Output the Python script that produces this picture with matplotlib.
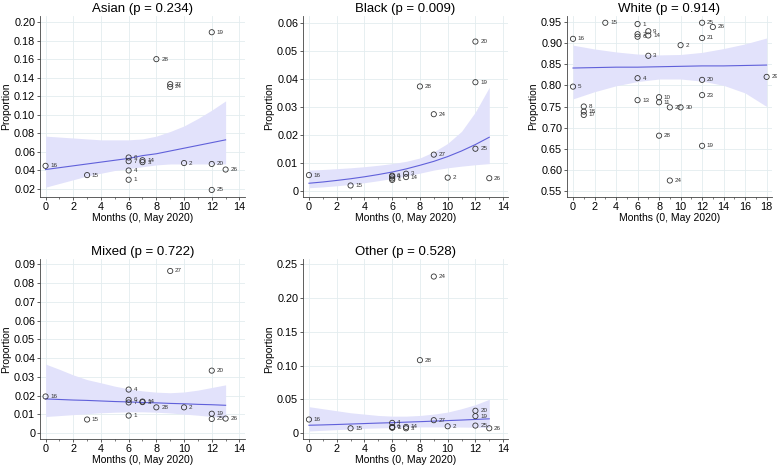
import matplotlib
matplotlib.use("Agg")
import matplotlib.pyplot as plt
import numpy as np
from matplotlib.ticker import MultipleLocator, FuncFormatter

plt.rcParams['font.family'] = ['Liberation Sans', 'DejaVu Sans']

# Months since May 2020 for each study
months = {1: 6, 2: 10, 3: 7, 4: 6, 5: 0, 6: 6, 7: 6, 8: 1, 9: 7, 10: 8, 11: 8,
          13: 6, 14: 7, 15: 3, 16: 0, 17: 1, 18: 1, 19: 12, 20: 12, 21: 12,
          23: 12, 24: 9, 25: 12, 26: 13, 27: 9, 28: 8, 29: 18, 30: 10}

# studies with all ethnic groups
studies = [1, 2, 3, 4, 6, 7, 14, 15, 16, 19, 20, 24, 25, 26, 27, 28]
asian = [0.030, 0.048, 0.049, 0.040, 0.054, 0.050, 0.051, 0.035, 0.045,
         0.189, 0.047, 0.130, 0.019, 0.041, 0.133, 0.160]
black = [0.0040, 0.0048, 0.0062, 0.0052, 0.0055, 0.0045, 0.0050, 0.0020, 0.0057,
         0.0388, 0.0533, 0.0274, 0.0151, 0.0046, 0.0130, 0.0373]
mixed = [0.0093, 0.0137, 0.0165, 0.0232, 0.0177, 0.0163, 0.0168, 0.0072, 0.0195,
         0.0103, 0.0333, np.nan, 0.0075, 0.0077, 0.0865, 0.0137]
other = [0.008, 0.010, 0.007, 0.015, 0.009, 0.008, 0.009, 0.007, 0.020,
         0.025, 0.033, 0.232, 0.011, 0.007, 0.019, 0.108]

studies_white = [1, 2, 3, 4, 5, 6, 7, 8, 9, 10, 11, 13, 14, 15, 16, 17, 18, 19,
                 20, 21, 23, 24, 25, 26, 27, 28, 29, 30]
white = [0.945, 0.895, 0.870, 0.817, 0.797, 0.915, 0.921, 0.750, 0.928, 0.772,
         0.760, 0.765, 0.918, 0.948, 0.910, 0.730, 0.738, 0.657, 0.813, 0.912,
         0.777, 0.575, 0.948, 0.938, 0.748, 0.681, 0.820, 0.748]

# fitted proportion and 95% CI
fit_x = list(range(14))
asian_fit = [0.041, 0.043, 0.045, 0.047, 0.049, 0.051, 0.053, 0.056, 0.058, 0.061, 0.064, 0.067, 0.070, 0.073]
asian_hi = [0.077, 0.076, 0.075, 0.074, 0.073, 0.073, 0.073, 0.074, 0.077, 0.082, 0.088, 0.096, 0.105, 0.115]
asian_lo = [0.022, 0.026, 0.030, 0.034, 0.037, 0.040, 0.042, 0.044, 0.046, 0.047, 0.047, 0.047, 0.047, 0.047]

black_fit = [0.0028, 0.00325, 0.0038, 0.0044, 0.0051, 0.0059, 0.0068, 0.0079, 0.0092, 0.0106, 0.0123, 0.0143, 0.0166, 0.0192]
black_hi = [0.0075, 0.0077, 0.0080, 0.0083, 0.0087, 0.0092, 0.0098, 0.0106, 0.0118, 0.0140, 0.0170, 0.0213, 0.0282, 0.0370]
black_lo = [0.0012, 0.0015, 0.0019, 0.0024, 0.0030, 0.0037, 0.0045, 0.0054, 0.0064, 0.0075, 0.0083, 0.0089, 0.0094, 0.0098]

mixed_fit = [0.0182, 0.0179, 0.0176, 0.0174, 0.0171, 0.0168, 0.0166, 0.0163, 0.0161, 0.0158, 0.0156, 0.0153, 0.0151, 0.0148]
mixed_hi = [0.0368, 0.0340, 0.0310, 0.0285, 0.0268, 0.0250, 0.0236, 0.0225, 0.0218, 0.0215, 0.0219, 0.0229, 0.0243, 0.0257]
mixed_lo = [0.0088, 0.0093, 0.0098, 0.0103, 0.0108, 0.0111, 0.0113, 0.0113, 0.0111, 0.0107, 0.0101, 0.0095, 0.0088, 0.0082]

other_fit = [0.0115, 0.0120, 0.0126, 0.0133, 0.0140, 0.0147, 0.0153, 0.0161, 0.0168, 0.0176, 0.0184, 0.0192, 0.0201, 0.0210]
other_hi = [0.039, 0.036, 0.033, 0.030, 0.028, 0.026, 0.025, 0.025, 0.026, 0.028, 0.031, 0.036, 0.042, 0.050]
other_lo = [0.003, 0.004, 0.005, 0.006, 0.007, 0.0075, 0.008, 0.0085, 0.009, 0.009, 0.009, 0.0088, 0.0085, 0.008]

white_fit_x = [0, 2, 4, 6, 8, 10, 12, 14, 16, 18]
white_fit = [0.841, 0.842, 0.843, 0.843, 0.844, 0.845, 0.846, 0.846, 0.847, 0.848]
white_hi = [0.895, 0.886, 0.879, 0.874, 0.872, 0.873, 0.878, 0.887, 0.898, 0.912]
white_lo = [0.768, 0.785, 0.799, 0.809, 0.815, 0.815, 0.810, 0.800, 0.782, 0.750]

LINE = '#6060da'
BAND = '#e2e2fb'
GRID = '#e3ecef'


def fmt(v, pos):
    if abs(v) < 1e-9:
        return '0'
    return f'{v:.2f}'


def panel(rect, title, ids, vals, fx, fy, lo, hi, ylim, ystep, xlim, xmax_tick):
    ax = fig.add_axes(rect)
    ax.fill_between(fx, lo, hi, color=BAND, lw=0, zorder=1)
    ax.plot(fx, fy, color=LINE, lw=0.8, zorder=2)
    xs = [months[i] for i in ids]
    ax.scatter(xs, vals, s=14, facecolors='none', edgecolors='#333333',
               linewidths=0.6, zorder=3)
    for x, y, i in zip(xs, vals, ids):
        if np.isnan(y):
            continue
        ax.annotate(str(i), (x, y), xytext=(3.5, 0), textcoords='offset points',
                    fontsize=4.5, color='#333333', va='center', ha='left')
    ax.set_xlim(*xlim)
    ax.set_ylim(*ylim)
    ax.xaxis.set_minor_locator(MultipleLocator(1))
    ax.set_xticks(np.arange(0, xmax_tick + 1, 2))
    ax.yaxis.set_major_locator(MultipleLocator(ystep))
    ax.yaxis.set_major_formatter(FuncFormatter(fmt))
    ax.grid(True, which='major', color=GRID, lw=0.6, zorder=0)
    ax.set_axisbelow(True)
    for s in ['top', 'right']:
        ax.spines[s].set_visible(False)
    for s in ['left', 'bottom']:
        ax.spines[s].set_color('#444444')
        ax.spines[s].set_linewidth(0.6)
    ax.tick_params(which='major', length=2.5, width=0.6, color='#444444',
                   labelsize=7.8, pad=1)
    ax.tick_params(which='minor', length=1.5, width=0.5, color='#444444')
    ax.set_title(title, fontsize=9.5, pad=3)
    ax.set_xlabel('Months (0, May 2020)', fontsize=7.5, labelpad=0.5)
    ax.set_ylabel('Proportion', fontsize=7.5, labelpad=2)
    return ax


W, H = 777, 465
fig = plt.figure(figsize=(W / 100, H / 100), dpi=100)


def r(l, t, rr, b):
    return [l / W, 1 - b / H, (rr - l) / W, (b - t) / H]


panel(r(40, 16, 245, 197), 'Asian (p = 0.234)', studies, asian, fit_x, asian_fit,
      asian_lo, asian_hi, (0.0114, 0.2065), 0.02, (-0.4, 14.4), 14)
panel(r(303, 16, 508, 197), 'Black (p = 0.009)', studies, black, fit_x, black_fit,
      black_lo, black_hi, (-0.0021, 0.0624), 0.01, (-0.43, 14.35), 14)
panel(r(567, 16, 772, 197), 'White (p = 0.914)', studies_white, white, white_fit_x,
      white_fit, white_lo, white_hi, (0.536, 0.964), 0.05, (-0.56, 18.5), 18)
panel(r(40, 259, 245, 439), 'Mixed (p = 0.722)', studies, mixed, fit_x, mixed_fit,
      mixed_lo, mixed_hi, (-0.0032, 0.0929), 0.01, (-0.4, 14.4), 14)
panel(r(303, 259, 508, 439), 'Other (p = 0.528)', studies, other, fit_x, other_fit,
      other_lo, other_hi, (-0.0089, 0.258), 0.05, (-0.43, 14.35), 14)

fig.savefig('out.png', dpi=100)
